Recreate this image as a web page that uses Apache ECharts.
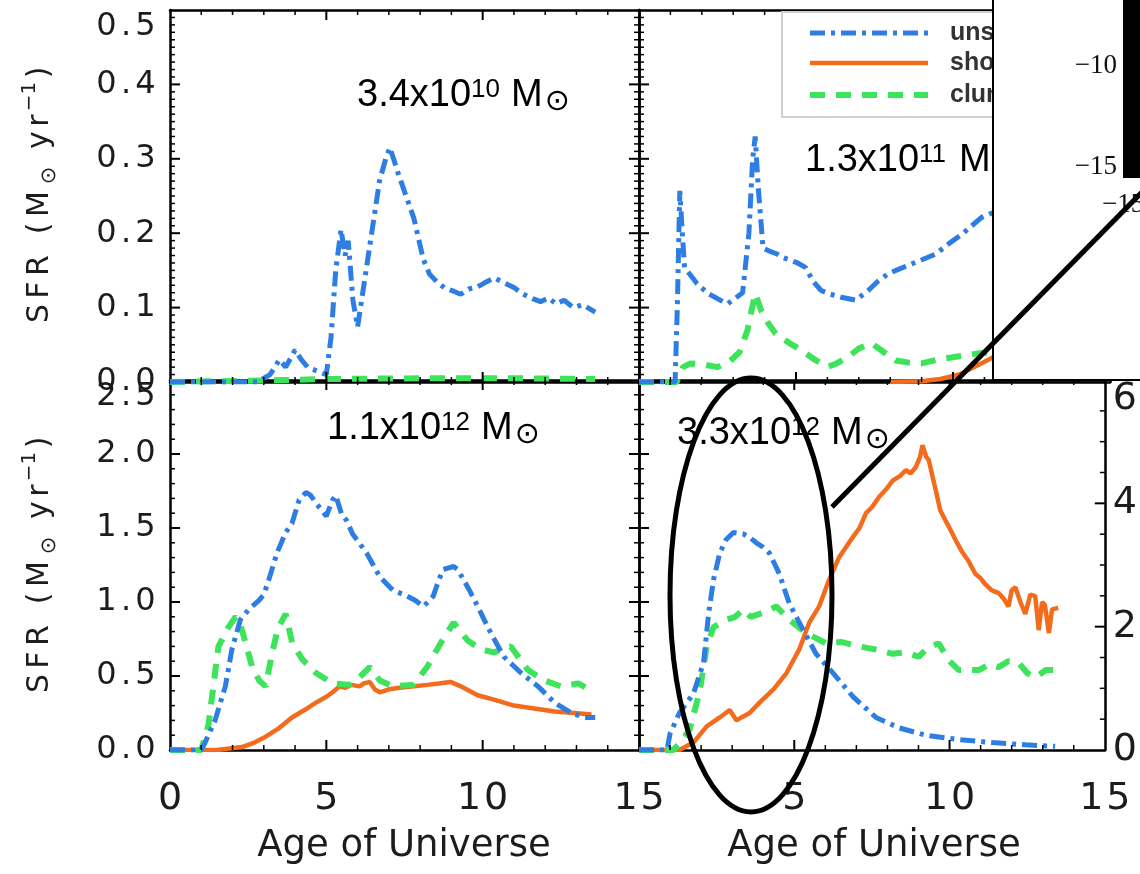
<!DOCTYPE html>
<html>
<head>
<meta charset="utf-8">
<script src="https://cdn.jsdelivr.net/npm/echarts@6/dist/echarts.min.js"></script>
<style>
  html, body { margin: 0; padding: 0; background: #fff; }
  #chart { width: 1140px; height: 874px; }
</style>
</head>
<body>
<div id="chart"></div>
<script>
// ---- star formation histories, [age (Gyr), SFR] ----
const tlUnstable = [[0,0],[1,0],[2,0],[2.8,0],[3.2,0.01],[3.5,0.03],[3.7,0.02],[4.0,0.043],[4.2,0.03],[4.4,0.02],[4.75,0.014],[5.0,0.01],[5.15,0.06],[5.3,0.15],[5.47,0.205],[5.6,0.17],[5.7,0.19],[5.85,0.11],[6.0,0.074],[6.2,0.13],[6.45,0.2],[6.7,0.27],[6.9,0.3],[7.03,0.315],[7.15,0.3],[7.3,0.28],[7.55,0.25],[7.8,0.22],[8.1,0.165],[8.3,0.145],[8.55,0.134],[8.8,0.126],[9.07,0.122],[9.3,0.118],[9.55,0.125],[9.8,0.127],[10.05,0.133],[10.36,0.14],[10.6,0.135],[11.0,0.127],[11.3,0.118],[11.6,0.112],[11.85,0.108],[12.1,0.113],[12.35,0.105],[12.6,0.11],[12.9,0.1],[13.2,0.104],[13.6,0.094]];
const tlClumpy = [[0,0],[3,0.002],[5,0.004],[8,0.005],[11,0.005],[13.6,0.004]];

const trUnstable = [[0,0],[1.15,0],[1.22,0.1],[1.3,0.257],[1.38,0.2],[1.45,0.154],[1.85,0.132],[2.2,0.119],[2.5,0.112],[2.82,0.105],[3.05,0.112],[3.3,0.12],[3.5,0.2],[3.62,0.3],[3.7,0.33],[3.8,0.26],[3.95,0.18],[4.15,0.176],[4.4,0.172],[4.6,0.167],[4.8,0.164],[5.05,0.16],[5.3,0.154],[5.55,0.135],[5.8,0.123],[6.1,0.118],[6.44,0.114],[6.9,0.11],[7.3,0.123],[7.6,0.135],[7.95,0.146],[8.3,0.152],[8.7,0.159],[9.05,0.165],[9.45,0.172],[9.9,0.187],[10.3,0.199],[10.6,0.21],[10.9,0.221],[11.4,0.23],[12,0.235],[12.6,0.24],[13.4,0.245]];
const trClumpy = [[0,0],[1.2,0],[1.4,0.02],[1.64,0.025],[2.0,0.024],[2.5,0.02],[2.9,0.028],[3.2,0.04],[3.45,0.069],[3.7,0.119],[3.9,0.095],[4.1,0.08],[4.35,0.065],[4.8,0.052],[5.16,0.043],[5.6,0.03],[6.0,0.02],[6.3,0.025],[6.67,0.034],[7.0,0.045],[7.4,0.052],[7.8,0.04],[8.17,0.029],[8.6,0.026],[9.0,0.025],[9.5,0.03],[10.1,0.034],[10.9,0.039],[11.8,0.04],[12.6,0.042],[13.4,0.04]];
const trShock = [[8.0,0],[9.0,0.001],[9.6,0.004],[10.2,0.01],[10.9,0.025],[11.8,0.045],[12.6,0.06],[13.4,0.07]];

const blUnstable = [[0,0],[1.0,0],[1.12,0.05],[1.44,0.2],[1.77,0.43],[1.98,0.68],[2.25,0.88],[2.52,0.95],[2.84,1.01],[3.0,1.05],[3.16,1.15],[3.42,1.33],[3.7,1.47],[3.9,1.53],[4.13,1.69],[4.35,1.74],[4.5,1.72],[4.67,1.67],[4.85,1.62],[5.0,1.58],[5.2,1.69],[5.3,1.72],[5.48,1.6],[5.65,1.55],[5.84,1.46],[6.05,1.4],[6.29,1.33],[6.5,1.25],[6.71,1.17],[7.13,1.08],[7.58,1.04],[7.85,1.01],[8.1,0.97],[8.25,1.0],[8.42,1.04],[8.6,1.15],[8.74,1.22],[9.07,1.24],[9.2,1.22],[9.39,1.15],[9.6,1.07],[9.84,0.97],[10.26,0.79],[10.68,0.63],[11.23,0.52],[11.77,0.43],[12.3,0.32],[12.84,0.25],[13.26,0.22],[13.6,0.22]];
const blClumpy = [[0,0],[1.0,0],[1.23,0.17],[1.55,0.7],[1.87,0.83],[2.1,0.9],[2.25,0.85],[2.42,0.72],[2.63,0.56],[2.85,0.47],[3.06,0.43],[3.27,0.66],[3.45,0.82],[3.7,0.92],[3.91,0.72],[4.24,0.61],[4.67,0.52],[5.2,0.45],[5.74,0.44],[6.1,0.5],[6.39,0.56],[6.71,0.47],[7.13,0.43],[7.78,0.44],[8.22,0.56],[8.65,0.72],[9.07,0.86],[9.52,0.74],[9.94,0.68],[10.36,0.66],[10.9,0.7],[11.45,0.54],[11.97,0.47],[12.5,0.43],[13.06,0.45],[13.48,0.4]];
const blShock = [[0,0],[1.5,0],[2.3,0.02],[2.7,0.05],[3.06,0.09],[3.5,0.15],[3.9,0.22],[4.3,0.27],[4.67,0.32],[5.0,0.36],[5.2,0.39],[5.42,0.43],[5.6,0.42],[5.8,0.44],[6.06,0.43],[6.2,0.45],[6.39,0.46],[6.55,0.41],[6.71,0.39],[7.0,0.41],[7.35,0.42],[7.8,0.43],[8.22,0.44],[8.6,0.45],[8.97,0.46],[9.3,0.43],[9.84,0.37],[10.36,0.34],[11.0,0.3],[11.65,0.28],[12.3,0.26],[12.94,0.25],[13.48,0.24]];

const brUnstable = [[0,0],[0.9,0],[1.0,0.11],[1.3,0.25],[1.75,0.38],[2.08,0.59],[2.24,0.92],[2.4,1.15],[2.6,1.33],[2.8,1.42],[3.04,1.47],[3.36,1.46],[3.6,1.43],[3.78,1.4],[4.0,1.37],[4.2,1.33],[4.52,1.19],[4.84,0.99],[5.29,0.81],[5.7,0.65],[6.25,0.52],[6.89,0.36],[7.63,0.22],[8.37,0.15],[9.23,0.1],[10.3,0.07],[11.38,0.05],[12.44,0.035],[13.4,0.025]];
const brClumpy = [[0,0],[1.1,0],[1.35,0.05],[1.63,0.14],[1.96,0.4],[2.18,0.7],[2.4,0.83],[2.82,0.88],[3.1,0.9],[3.36,0.95],[3.6,0.9],[3.88,0.92],[4.15,0.94],[4.42,0.97],[4.84,0.88],[5.38,0.79],[6.03,0.72],[6.5,0.73],[7.08,0.7],[7.6,0.68],[8.17,0.65],[8.6,0.66],[9.0,0.63],[9.3,0.69],[9.65,0.72],[10.0,0.6],[10.3,0.54],[10.94,0.54],[11.3,0.58],[11.58,0.56],[11.9,0.6],[12.22,0.59],[12.5,0.52],[12.76,0.49],[13.1,0.54],[13.4,0.54]];
const brShock = [[0,0],[1.3,0],[1.75,0.05],[2.18,0.16],[2.6,0.22],[2.92,0.27],[3.14,0.2],[3.3,0.22],[3.56,0.25],[3.88,0.32],[4.33,0.41],[4.75,0.52],[5.16,0.68],[5.48,0.86],[5.8,0.97],[6.12,1.15],[6.44,1.3],[6.89,1.44],[7.1,1.5],[7.31,1.6],[7.5,1.64],[7.73,1.71],[7.95,1.76],[8.17,1.82],[8.4,1.85],[8.59,1.89],[8.75,1.87],[8.91,1.91],[9.05,1.98],[9.13,2.06],[9.25,1.98],[9.33,1.96],[9.45,1.85],[9.55,1.76],[9.7,1.62],[9.87,1.55],[10.0,1.5],[10.19,1.42],[10.4,1.34],[10.6,1.28],[10.83,1.19],[11.0,1.16],[11.15,1.12],[11.35,1.08],[11.58,1.06],[11.75,1.02],[11.9,0.97],[12.0,1.08],[12.12,1.1],[12.28,1.0],[12.44,0.92],[12.6,1.05],[12.76,1.04],[12.87,0.81],[12.98,1.0],[13.07,0.98],[13.2,0.79],[13.3,0.95],[13.5,0.96]];

// ---- labels ----
const seriesNames = ['unstable disk', 'shock heated', 'clumpy streams'];
const panelMasses = [['3.4x10', '10'], ['1.3x10', '11'], ['1.1x10', '12'], ['3.3x10', '12']];
const xTitle = 'Age of Universe';
const insetTicks = ['\u221210', '\u221215', '\u221215'];

const BLACK = '#000';
const TEXT = '#1c1c1c';
const FONT = 'DejaVu Sans';

const STYLE = {
  'unstable disk':  { color: '#2e7de3', type: [15, 6, 4, 6], width: 5 },
  'shock heated':   { color: '#f36b1c', type: 'solid', width: 4.5 },
  'clumpy streams': { color: '#3de35a', type: [15, 11], width: 6 }
};

// wide, evenly spaced glyphs for tick labels
function spaced(str, cls) {
  return str.split('').map(ch => '{' + (ch === '.' ? cls + 'p' : cls) + '|' + ch + '}').join('');
}
const yRich = {
  y:  { fontSize: 32, width: 25, align: 'center', fontFamily: FONT, color: TEXT, lineHeight: 34 },
  yp: { fontSize: 32, width: 14, align: 'center', fontFamily: FONT, color: TEXT, lineHeight: 34 }
};
const xRich = {
  x:  { fontSize: 38, width: 27, align: 'center', fontFamily: FONT, color: TEXT, lineHeight: 38 },
  xp: { fontSize: 38, width: 17, align: 'center', fontFamily: FONT, color: TEXT, lineHeight: 38 },
  r:  { fontSize: 38, width: 22, align: 'left', fontFamily: FONT, color: TEXT, lineHeight: 38 }
};

// y title "SFR (M⊙ yr⁻¹)", glyphs spread out along the axis
const nameTokens = [['S',24,'n'],['F',23,'n'],['R',26,'n'],[' ',16,'n'],['(',16,'n'],['M',33,'n'],['\u2299',24,'o'],[' ',12,'n'],['y',23,'n'],['r',16,'n'],['\u22121',32,'u'],[')',16,'n']];
const nameBase = {
  n: { fontSize: 30, fontFamily: FONT, fill: TEXT, lineHeight: 40, align: 'center' },
  o: { fontSize: 21, fontFamily: FONT, fill: TEXT, lineHeight: 21, verticalAlign: 'bottom', align: 'center' },
  u: { fontSize: 20, fontFamily: FONT, fill: TEXT, lineHeight: 20, verticalAlign: 'top', align: 'center' }
};
const nameRich = {};
const yTitle = nameTokens.map((t, i) => {
  const key = t[2] + i;
  nameRich[key] = Object.assign({}, nameBase[t[2]], { width: t[1] });
  return '{' + key + '|' + t[0] + '}';
}).join('');

// ---- panel geometry ----
const grids = [
  { left: 170, top: 10,  width: 469, height: 372 },
  { left: 639, top: 10,  width: 471, height: 372 },
  { left: 170, top: 380, width: 469, height: 370 },
  { left: 639, top: 380, width: 471, height: 370 }
];

// axis scales: max, major step, minor subdivisions
const X_SCALE = { max: 15, step: 5, minor: 5 };
const Y_SCALES = [
  { max: 0.5, step: 0.1, minor: 10 },
  { max: 0.5, step: 0.1, minor: 10 },
  { max: 2.5, step: 0.5, minor: 5 },
  { max: 2.5, step: 0.5, minor: 5 }
];
const Y2_SCALE = { max: 6, step: 2, minor: 4 };

function baseAxis(pos, grid, sc) {
  return {
    type: 'value', gridIndex: grid, position: pos, min: 0, max: sc.max, interval: sc.step,
    axisLine: { show: true, onZero: false, lineStyle: { color: BLACK, width: 2.5 } },
    axisTick: { show: false },
    splitLine: { show: false },
    axisLabel: { show: false }
  };
}

const xAxes = [];
grids.forEach((g, i) => {
  const bottom = baseAxis('bottom', i, X_SCALE);
  if (i >= 2) {
    // the right panel leaves its first tick unlabelled
    bottom.axisLabel = {
      show: true, margin: 30,
      formatter: v => (i === 3 && v === 0) ? '' : spaced(String(v), 'x'), rich: xRich
    };
  }
  xAxes.push(bottom, baseAxis('top', i, X_SCALE));
});

const yAxes = [];
grids.forEach((g, i) => {
  const left = baseAxis('left', i, Y_SCALES[i]);
  if (i % 2 === 0) {
    left.axisLabel = {
      show: true, margin: 12, verticalAlignMaxLabel: 'top',
      formatter: v => spaced(v.toFixed(1), 'y'), rich: yRich
    };
  }
  let right;
  if (i === 3) {
    // secondary scale on the lower right panel
    right = baseAxis('right', i, Y2_SCALE);
    right.axisLabel = { show: true, margin: 8, verticalAlignMaxLabel: 'top',
      formatter: v => '{r|' + v + '}', rich: xRich };
  } else {
    right = baseAxis('right', i, Y_SCALES[i]);
  }
  yAxes.push(left, right);
});

function line(name, data, panel) {
  const s = STYLE[name];
  return {
    type: 'line', name, data, xAxisIndex: panel * 2, yAxisIndex: panel * 2,
    symbol: 'none', smooth: false,
    color: s.color, itemStyle: { color: s.color },
    lineStyle: { color: s.color, type: s.type, width: s.width, cap: 'butt' }
  };
}

const series = [
  line('clumpy streams', tlClumpy, 0),
  line('unstable disk', tlUnstable, 0),
  line('shock heated', trShock, 1),
  line('clumpy streams', trClumpy, 1),
  line('unstable disk', trUnstable, 1),
  line('shock heated', blShock, 2),
  line('clumpy streams', blClumpy, 2),
  line('unstable disk', blUnstable, 2),
  line('shock heated', brShock, 3),
  line('clumpy streams', brClumpy, 3),
  line('unstable disk', brUnstable, 3)
];

// axis titles
const titles = [
  { type: 'text', x: 404, y: 846, z: 20, style: { text: xTitle, align: 'center', verticalAlign: 'middle', font: '37px "DejaVu Sans"', fill: TEXT } },
  { type: 'text', x: 874, y: 846, z: 20, style: { text: xTitle, align: 'center', verticalAlign: 'middle', font: '37px "DejaVu Sans"', fill: TEXT } },
  { type: 'text', x: 40, y: 195, z: 20, rotation: Math.PI / 2, style: { text: yTitle, rich: nameRich, align: 'center', verticalAlign: 'middle', fontSize: 30 } },
  { type: 'text', x: 40, y: 565, z: 20, rotation: Math.PI / 2, style: { text: yTitle, rich: nameRich, align: 'center', verticalAlign: 'middle', fontSize: 30 } }
];

// key box in the upper right panel
const keyRows = [33, 63, 95];
const key = [
  { type: 'rect', z: 60, shape: { x: 782, y: 12, width: 400, height: 105 },
    style: { fill: '#fff', stroke: '#cfcfcf', lineWidth: 2 } }
];
seriesNames.forEach((n, k) => {
  const s = STYLE[n];
  const st = { stroke: s.color, lineWidth: s.width };
  if (Array.isArray(s.type)) st.lineDash = s.type;
  key.push({ type: 'line', z: 61, shape: { x1: 810, y1: keyRows[k], x2: 928, y2: keyRows[k] }, style: st });
  key.push({ type: 'text', z: 61, x: 950, y: keyRows[k],
    style: { text: n, align: 'left', verticalAlign: 'middle', font: 'bold 25px "Liberation Sans"', fill: '#333' } });
});

// mass annotations
const massRich = {
  m: { fontSize: 38, lineHeight: 46, fontFamily: 'Liberation Sans', fill: '#000' },
  e: { fontSize: 26, lineHeight: 26, width: 40, verticalAlign: 'top', padding: [4, 0, 0, 0], fontFamily: 'Liberation Sans', fill: '#000' },
  s: { fontSize: 30, lineHeight: 30, verticalAlign: 'bottom', padding: [0, 0, 2, 2], fontFamily: 'DejaVu Sans', fill: '#000' }
};
const massPos = [[357, 73], [805, 138], [327, 406], [677, 411]];
const massLabels = panelMasses.map((m, i) => ({
  type: 'text', x: massPos[i][0], y: massPos[i][1], z: 50,
  style: {
    text: '{m|' + m[0] + '}{e|' + m[1] + '}{m|M}{s|\u2299}',
    align: 'left', verticalAlign: 'top', rich: massRich, fontSize: 38
  }
}));

// overlaid map inset with its colour bar, plus the pointer and the highlight ring
const inset = [
  { type: 'rect', z: 100, shape: { x: 993, y: -10, width: 170, height: 390 },
    style: { fill: '#fff', stroke: BLACK, lineWidth: 2 } },
  { type: 'rect', z: 101, shape: { x: 1123, y: -5, width: 30, height: 183 },
    style: { fill: '#000' } },
  { type: 'text', z: 101, x: 1117, y: 66,
    style: { text: insetTicks[0], align: 'right', verticalAlign: 'middle', font: '27px "Liberation Serif"', fill: '#111' } },
  { type: 'text', z: 101, x: 1117, y: 167,
    style: { text: insetTicks[1], align: 'right', verticalAlign: 'middle', font: '27px "Liberation Serif"', fill: '#111' } },
  { type: 'text', z: 101, x: 1102, y: 205,
    style: { text: insetTicks[2], align: 'left', verticalAlign: 'middle', font: '27px "Liberation Serif"', fill: '#111' } },
  { type: 'line', z: 110, shape: { x1: 832, y1: 507, x2: 1148, y2: 186 },
    style: { stroke: BLACK, lineWidth: 5 } },
  { type: 'ellipse', z: 110, shape: { cx: 751, cy: 595, rx: 81, ry: 217 },
    style: { fill: null, stroke: BLACK, lineWidth: 5 } }
];

const chart = echarts.init(document.getElementById('chart'));
chart.setOption({
  animation: false,
  grid: grids,
  xAxis: xAxes,
  yAxis: yAxes,
  series
});

// inward frame ticks: values from each scale, positions from the axes themselves
function tickValues(sc) {
  const n = Math.round(sc.max / sc.step) * sc.minor;
  const out = [];
  for (let k = 1; k < n; k++) out.push([k * sc.step / sc.minor, k % sc.minor === 0 ? 10 : 5]);
  return out;
}
function seg(x1, y1, x2, y2, len) {
  return { type: 'line', z: 5, silent: true, shape: { x1, y1, x2, y2 },
    style: { stroke: BLACK, lineWidth: len > 6 ? 2 : 1.5 } };
}
const frameTicks = [];
grids.forEach((g, i) => {
  const xi = i * 2, yi = i * 2;
  const ys = Y_SCALES[i];
  const yBot = chart.convertToPixel({ yAxisIndex: yi }, 0);
  const yTop = chart.convertToPixel({ yAxisIndex: yi }, ys.max);
  const xLeft = chart.convertToPixel({ xAxisIndex: xi }, 0);
  const xRight = chart.convertToPixel({ xAxisIndex: xi }, X_SCALE.max);
  tickValues(X_SCALE).forEach(([v, len]) => {
    const x = chart.convertToPixel({ xAxisIndex: xi }, v);
    frameTicks.push(seg(x, yBot, x, yBot - len, len), seg(x, yTop, x, yTop + len, len));
  });
  tickValues(ys).forEach(([v, len]) => {
    const y = chart.convertToPixel({ yAxisIndex: yi }, v);
    frameTicks.push(seg(xLeft, y, xLeft + len, y, len));
    if (i !== 3) frameTicks.push(seg(xRight, y, xRight - len, y, len));
  });
  if (i === 3) {
    tickValues(Y2_SCALE).forEach(([v, len]) => {
      const y = chart.convertToPixel({ yAxisIndex: 7 }, v);
      frameTicks.push(seg(xRight, y, xRight - len, y, len));
    });
  }
});

chart.setOption({
  graphic: { elements: frameTicks.concat(titles, key, massLabels, inset) }
});
</script>
</body>
</html>
